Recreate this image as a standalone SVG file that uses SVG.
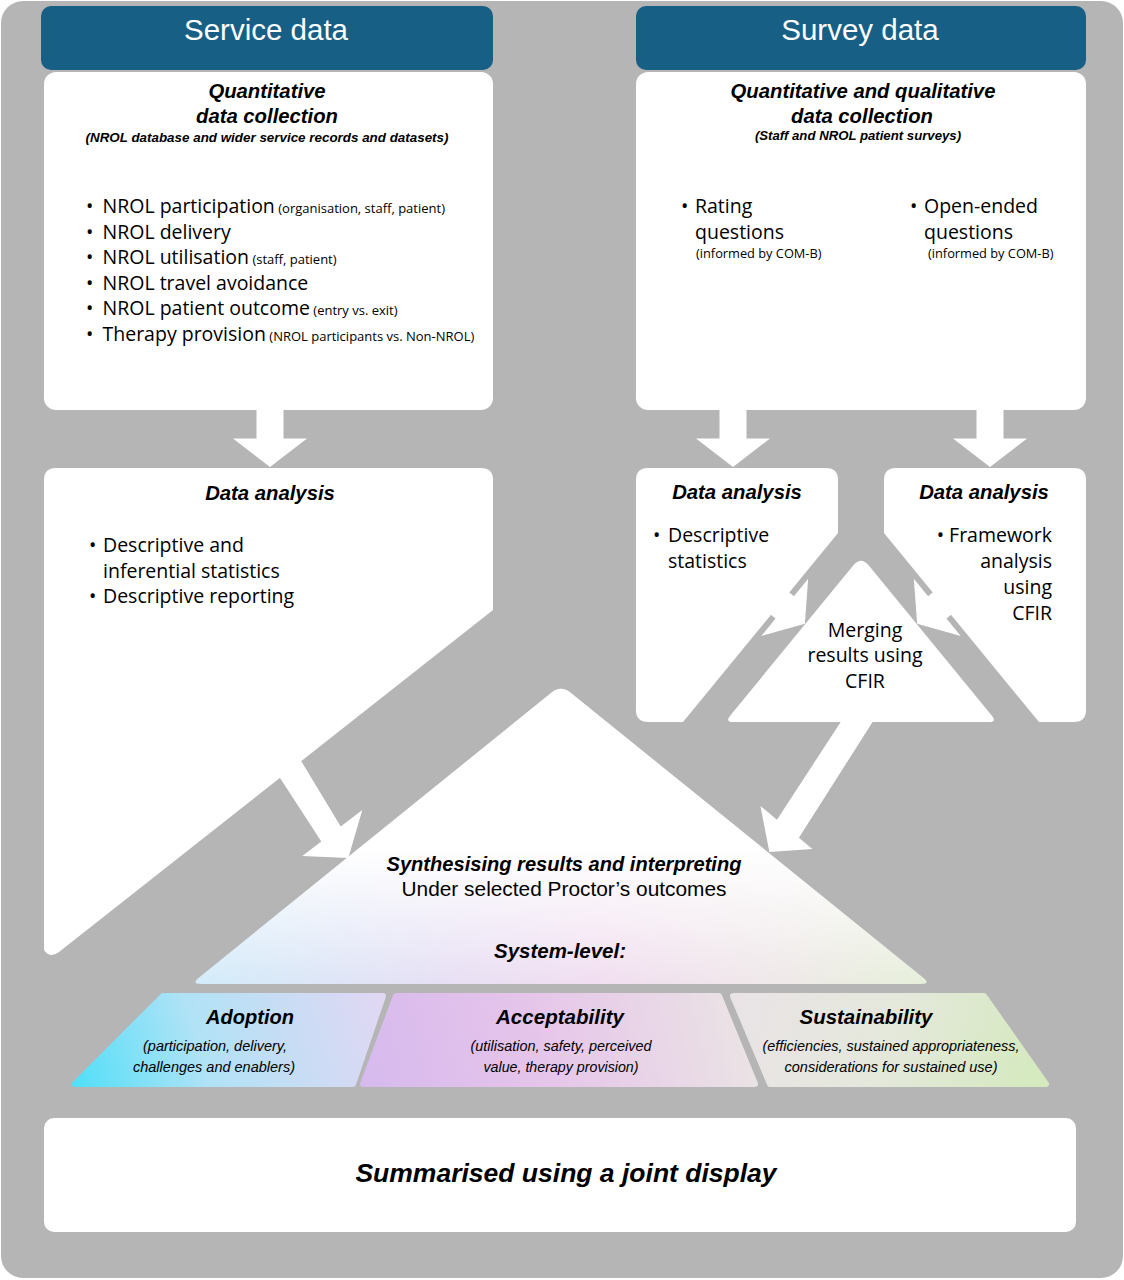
<svg xmlns="http://www.w3.org/2000/svg" width="1124" height="1280" viewBox="0 0 1124 1280">
<defs>
<style>
text{font-family:"Liberation Sans",Arial,sans-serif;fill:#000}
.r{font-family:"Open Sans","Liberation Sans",Arial,sans-serif}
.hdr{fill:#fff;font-size:29.5px;text-anchor:middle}
.bi{font-weight:bold;font-style:italic}
.it{font-style:italic}
.m{text-anchor:middle}
.e{text-anchor:end}
.b{font-size:19.5px}
.s{font-size:13px}
.box{fill:#fff}
.arr{fill:#fff}
</style>
<linearGradient id="gSynH" gradientUnits="userSpaceOnUse" x1="191" y1="0" x2="931" y2="0">
<stop offset="0" stop-color="#cdeaf9"/>
<stop offset="0.35" stop-color="#e5dcf3"/>
<stop offset="0.55" stop-color="#f0dbef"/>
<stop offset="0.8" stop-color="#ede6e6"/>
<stop offset="1" stop-color="#e3eed5"/>
</linearGradient>
<linearGradient id="gSynV" gradientUnits="userSpaceOnUse" x1="0" y1="685" x2="0" y2="984">
<stop offset="0" stop-color="#fff" stop-opacity="1"/>
<stop offset="0.55" stop-color="#fff" stop-opacity="1"/>
<stop offset="1" stop-color="#fff" stop-opacity="0.1"/>
</linearGradient>
<linearGradient id="gAd" gradientUnits="userSpaceOnUse" x1="75" y1="1087" x2="385" y2="993">
<stop offset="0" stop-color="#52dff8"/>
<stop offset="0.4" stop-color="#b0e2f6"/>
<stop offset="1" stop-color="#e2d7f3"/>
</linearGradient>
<linearGradient id="gAc" gradientUnits="userSpaceOnUse" x1="360" y1="1087" x2="760" y2="993">
<stop offset="0" stop-color="#d6b9ee"/>
<stop offset="0.45" stop-color="#e6c5ea"/>
<stop offset="1" stop-color="#ebe6e4"/>
</linearGradient>
<linearGradient id="gSu" gradientUnits="userSpaceOnUse" x1="740" y1="993" x2="1050" y2="1087">
<stop offset="0" stop-color="#e9e3e6"/>
<stop offset="0.5" stop-color="#e4e8da"/>
<stop offset="1" stop-color="#d3eabc"/>
</linearGradient>
</defs>

<rect id="background" x="1" y="1" width="1122" height="1277" rx="22" fill="#b5b5b5"/>

<g id="service-header">
<rect x="41" y="6" width="452" height="64" rx="10" fill="#185f86"/>
<text class="hdr" x="266" y="40">Service data</text>
</g>
<g id="survey-header">
<rect x="636" y="6" width="450" height="64" rx="10" fill="#185f86"/>
<text class="hdr" x="860" y="40">Survey data</text>
</g>

<g id="service-collection">
<rect class="box" x="44" y="72" width="449" height="338" rx="12"/>
<text class="bi m" x="267" y="97.5" font-size="20.3">Quantitative</text>
<text class="bi m" x="267" y="123" font-size="20.3">data collection</text>
<text class="bi m" x="267" y="142" font-size="13.4">(NROL database and wider service records and datasets)</text>
<text class="r b" x="86" y="213">•<tspan x="102.5">NROL participation</tspan><tspan class="s"> (organisation, staff, patient)</tspan></text>
<text class="r b" x="86" y="238.5">•<tspan x="102.5">NROL delivery</tspan></text>
<text class="r b" x="86" y="264">•<tspan x="102.5">NROL utilisation</tspan><tspan class="s"> (staff, patient)</tspan></text>
<text class="r b" x="86" y="289.5">•<tspan x="102.5">NROL travel avoidance</tspan></text>
<text class="r b" x="86" y="315">•<tspan x="102.5">NROL patient outcome</tspan><tspan class="s"> (entry vs. exit)</tspan></text>
<text class="r b" x="86" y="340.5">•<tspan x="102.5">Therapy provision</tspan><tspan class="s"> (NROL participants vs. Non-NROL)</tspan></text>
</g>

<g id="survey-collection">
<rect class="box" x="636" y="72" width="450" height="338" rx="12"/>
<text class="bi m" x="863" y="97.5" font-size="20.3">Quantitative and qualitative</text>
<text class="bi m" x="862" y="123" font-size="20.3">data collection</text>
<text class="bi m" x="858" y="140" font-size="13.2">(Staff and NROL patient surveys)</text>
<text class="r b" x="681" y="213">•<tspan x="695">Rating</tspan></text>
<text class="r b" x="695" y="238.5">questions</text>
<text class="r" x="696" y="258" font-size="12.8">(informed by COM-B)</text>
<text class="r b" x="910" y="213">•<tspan x="924">Open-ended</tspan></text>
<text class="r b" x="924" y="238.5">questions</text>
<text class="r" x="928" y="258" font-size="12.8">(informed by COM-B)</text>
</g>

<g id="service-analysis">
<path class="box" d="M44,480 Q44,468 56,468 L481,468 Q493,468 493,480 L493,610 L59,952 Q50,959 44,950 Z"/>
<text class="bi m" x="270" y="500" font-size="20.3">Data analysis</text>
<text class="r b" x="89" y="552">•<tspan x="103">Descriptive and</tspan></text>
<text class="r b" x="103" y="577.5">inferential statistics</text>
<text class="r b" x="89" y="603">•<tspan x="103">Descriptive reporting</tspan></text>
</g>

<g id="survey-analysis-quant">
<path class="box" d="M636,480 Q636,468 648,468 L826,468 Q838,468 838,480 L838,533 L683,722 L648,722 Q636,722 636,710 Z"/>
<text class="bi m" x="737" y="499" font-size="20.3">Data analysis</text>
<text class="r b" x="653" y="542">•<tspan x="668">Descriptive</tspan></text>
<text class="r b" x="668" y="568">statistics</text>
</g>

<g id="survey-analysis-qual">
<path class="box" d="M884,480 Q884,468 896,468 L1074,468 Q1086,468 1086,480 L1086,710 Q1086,722 1074,722 L1039,722 L884,533 Z"/>
<text class="bi m" x="984" y="499" font-size="20.3">Data analysis</text>
<text class="r b e" x="1052" y="542">• Framework</text>
<text class="r b e" x="1052" y="568">analysis</text>
<text class="r b e" x="1052" y="593.5">using</text>
<text class="r b e" x="1052" y="619.5">CFIR</text>
</g>

<g id="merging">
<path class="box" d="M853.4,565.3 Q861,556 868.6,565.3 L991.9,715.8 Q997,722 989,722 L733,722 Q725,722 730.1,715.8 Z"/>
<text class="r b m" x="865" y="636.5">Merging</text>
<text class="r b m" x="865" y="662">results using</text>
<text class="r b m" x="865" y="687.5">CFIR</text>
</g>

<g id="synthesis">
<path fill="url(#gSynH)" d="M551.7,692.5 Q561,685 570.3,692.5 L923.2,977.7 Q931,984 921,984 L201,984 Q191,984 198.8,977.7 Z"/>
<path fill="url(#gSynV)" d="M551.7,692.5 Q561,685 570.3,692.5 L923.2,977.7 Q931,984 921,984 L201,984 Q191,984 198.8,977.7 Z"/>
<text class="bi m" x="564" y="870.5" font-size="19.5" textLength="355" lengthAdjust="spacingAndGlyphs">Synthesising results and interpreting</text>
<text class="m" x="564" y="896" font-size="19.5" textLength="325" lengthAdjust="spacingAndGlyphs">Under selected Proctor’s outcomes</text>
<text class="bi m" x="560" y="958" font-size="19.5" textLength="132" lengthAdjust="spacingAndGlyphs">System-level:</text>
</g>

<g id="adoption">
<polygon points="163,996 383,996 353,1084 75,1084" fill="url(#gAd)" stroke="url(#gAd)" stroke-width="6" stroke-linejoin="round"/>
<text class="bi m" x="250" y="1024" font-size="19.5" textLength="88" lengthAdjust="spacingAndGlyphs">Adoption</text>
<text class="it m" x="215" y="1051" font-size="15.5" textLength="144" lengthAdjust="spacingAndGlyphs">(participation, delivery,</text>
<text class="it m" x="214" y="1072" font-size="15.5" textLength="162" lengthAdjust="spacingAndGlyphs">challenges and enablers)</text>
</g>

<g id="acceptability">
<polygon points="396,996 719,996 755,1084 363,1084" fill="url(#gAc)" stroke="url(#gAc)" stroke-width="6" stroke-linejoin="round"/>
<text class="bi m" x="560" y="1024" font-size="19.5" textLength="128" lengthAdjust="spacingAndGlyphs">Acceptability</text>
<text class="it m" x="561" y="1051" font-size="15.5" textLength="181" lengthAdjust="spacingAndGlyphs">(utilisation, safety, perceived</text>
<text class="it m" x="561" y="1072" font-size="15.5" textLength="155" lengthAdjust="spacingAndGlyphs">value, therapy provision)</text>
</g>

<g id="sustainability">
<polygon points="733,996 984,996 1046,1084 770,1084" fill="url(#gSu)" stroke="url(#gSu)" stroke-width="6" stroke-linejoin="round"/>
<text class="bi m" x="866" y="1024" font-size="19.5" textLength="133" lengthAdjust="spacingAndGlyphs">Sustainability</text>
<text class="it m" x="891" y="1051" font-size="15.5" textLength="257" lengthAdjust="spacingAndGlyphs">(efficiencies, sustained appropriateness,</text>
<text class="it m" x="891" y="1072" font-size="15.5" textLength="213" lengthAdjust="spacingAndGlyphs">considerations for sustained use)</text>
</g>

<g id="summary">
<rect class="box" x="44" y="1118" width="1032" height="114" rx="10"/>
<text class="bi m" x="566" y="1182" font-size="26.5">Summarised using a joint display</text>
</g>

<g id="connectors">
<polygon class="arr" points="256.5,405 283.5,405 283.5,438.5 307,438.5 270,467 233,438.5 256.5,438.5"/>
<polygon class="arr" points="719.5,405 746.5,405 746.5,438.5 770,438.5 733,467 696,438.5 719.5,438.5"/>
<polygon class="arr" points="976.5,405 1003.5,405 1003.5,438.5 1027,438.5 990,467 953,438.5 976.5,438.5"/>
<polygon class="arr" transform="translate(780.1,603.6) rotate(39.3)" points="-6,-14.5 6,-14.5 6,-37 32,0 6,37 6,14.5 -6,14.5"/>
<polygon class="arr" transform="translate(941.9,603.6) scale(-1,1) rotate(39.3)" points="-6,-14.5 6,-14.5 6,-37 32,0 6,37 6,14.5 -6,14.5"/>
<polygon class="arr" points="275.5,770.9 297.5,754.9 340.7,826.6 362.3,810 348.3,858 302.3,856 321.3,841.5"/>
<polygon class="arr" points="844.6,716 876.4,716 798.9,837.8 812.4,849 769.4,852 760.4,806 777,819.7"/>
</g>
</svg>
